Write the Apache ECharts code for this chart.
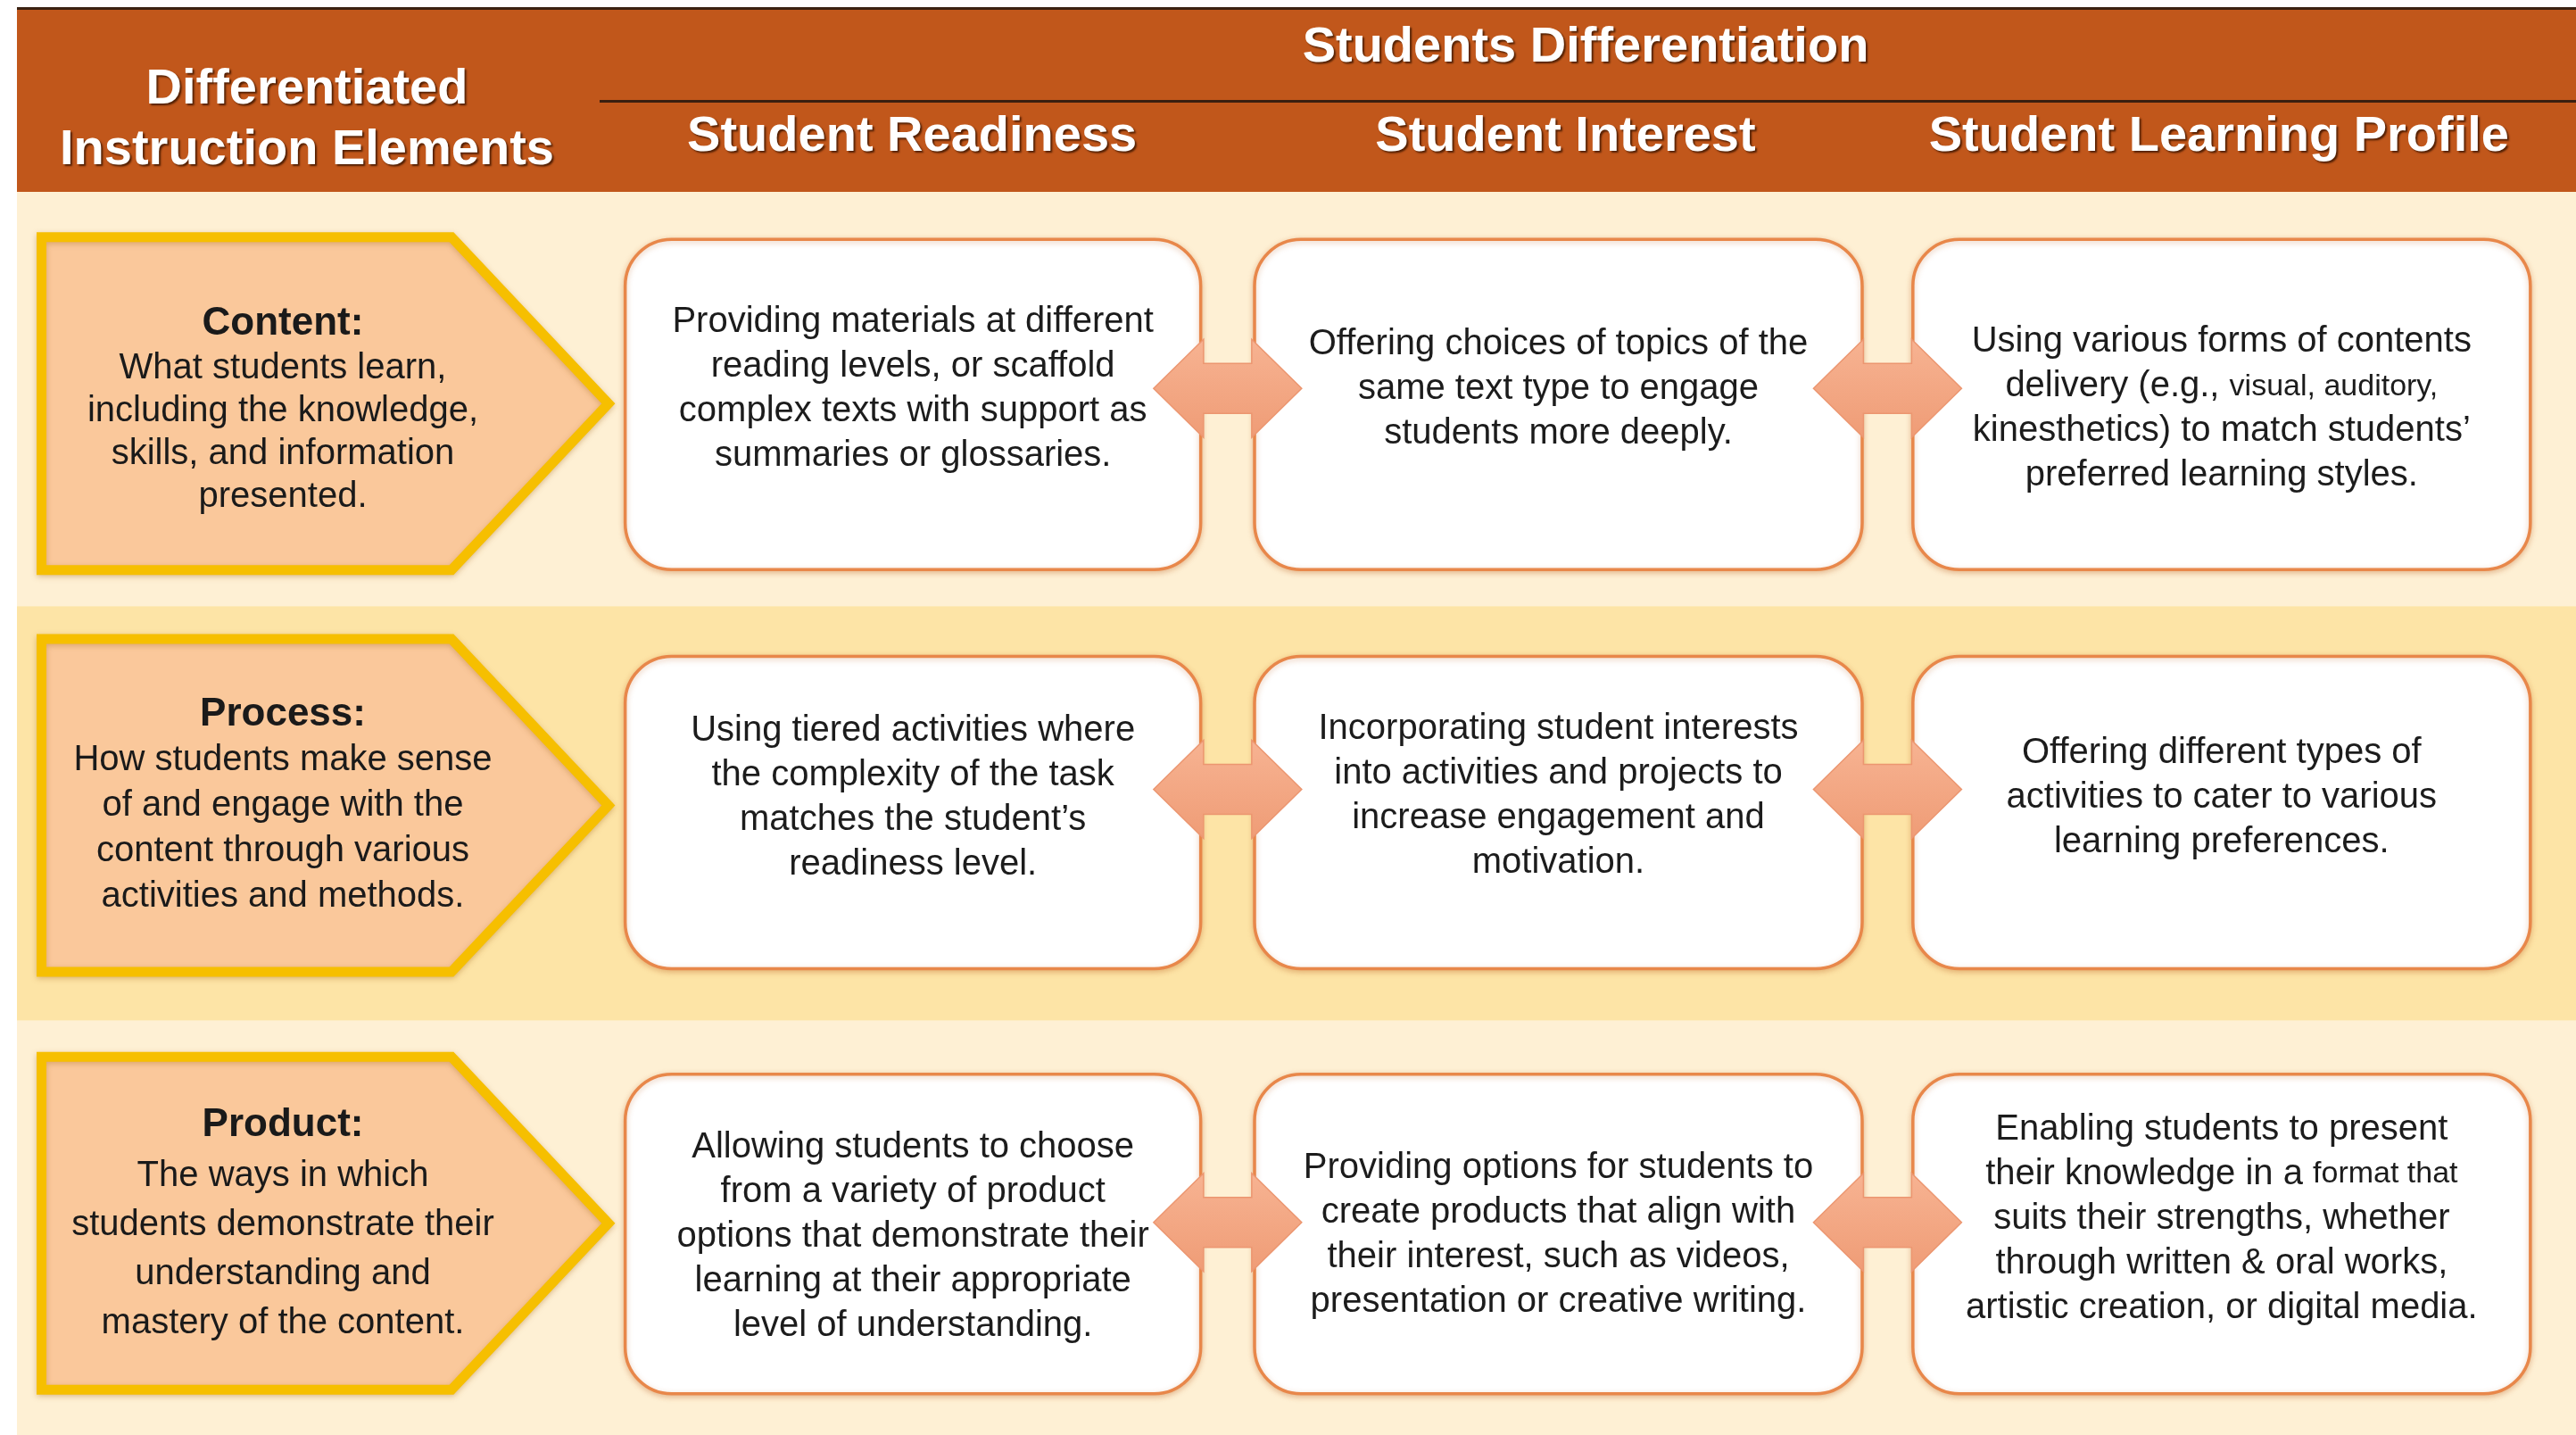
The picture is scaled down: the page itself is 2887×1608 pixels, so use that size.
<!DOCTYPE html>
<html><head><meta charset="utf-8">
<script src="https://cdn.jsdelivr.net/npm/echarts@6/dist/echarts.min.js"></script>
<style>html,body{margin:0;padding:0;background:#fff}#chart{width:2887px;height:1608px}</style>
</head><body><div id="chart"></div>
<script>
// ---------- DATA ----------
const rows = ['Content', 'Process', 'Product'];
const elementHeader = 'Differentiated\nInstruction Elements';
const groupTitle = 'Students Differentiation';
const columns = ['Student Readiness', 'Student Interest', 'Student Learning Profile'];
const elementTitles = ['Content:', 'Process:', 'Product:'];
const elementDescriptions = [
  'What students learn,\nincluding the knowledge,\nskills, and information\npresented.',
  'How students make sense\nof and engage with the\ncontent through various\nactivities and methods.',
  'The ways in which\nstudents demonstrate their\nunderstanding and\nmastery of the content.'
];
const readinessTexts = [
  'Providing materials at different\nreading levels, or scaffold\ncomplex texts with support as\nsummaries or glossaries.',
  'Using tiered activities where\nthe complexity of the task\nmatches the student\u2019s\nreadiness level.',
  'Allowing students to choose\nfrom a variety of product\noptions that demonstrate their\nlearning at their appropriate\nlevel of understanding.'
];
const interestTexts = [
  'Offering choices of topics of the\nsame text type to engage\nstudents more deeply.',
  'Incorporating student interests\ninto activities and projects to\nincrease engagement and\nmotivation.',
  'Providing options for students to\ncreate products that align with\ntheir interest, such as videos,\npresentation or creative writing.'
];
const profileTexts = [
  'Using various forms of contents\ndelivery (e.g., {s|visual, auditory,}\nkinesthetics) to match students\u2019\npreferred learning styles.',
  'Offering different types of\nactivities to cater to various\nlearning preferences.',
  'Enabling students to present\ntheir knowledge in a {s|format that}\nsuits their strengths, whether\nthrough written & oral works,\nartistic creation, or digital media.'
];

// ---------- STYLE / LAYOUT CONSTANTS ----------
const FONT = '"Liberation Sans", Arial, Helvetica, sans-serif';
const HEADER_COLOR = '#C1571B';
const BAND_COLORS = ['#FEF0D4', '#FDE4A6'];
const CHEV = { left: -303, bodyEnd: 162, tip: 345, height: 384, stroke: 11, dy: [5, -9, -5], textDx: -27,
               textDy: [12, -9, -5], lineH: [48, 51, 55], titleH: [52, 52, 60] };
const BOX_W = [645, 681, 692];
const BOX_H = [370, 350, 358];
const BOX_DY = [6, -1, 7];
const COL_DX = [1, -8, 3];
const TEXT_DY = [[-11, -11, 11], [-18, -20, -18], [10, 8, -10]];
const ARROW = { len: 166, head: 56, headH: 110, shaftH: 56, dy: [-12, -27, -6] };

const columnTexts = [readinessTexts, interestTexts, profileTexts];
const cells = [];
columns.forEach((col, c) => rows.forEach((row, r) => cells.push({ c, r, text: columnTexts[c][r] })));
const arrows = [];
rows.forEach((row, r) => { for (let c = 0; c < columns.length - 1; c++) arrows.push({ c, r }); });

function renderElement(params, api) {
  const r = api.value(1);
  const p = api.coord([0, r]);
  const cx = p[0], cy = p[1] + CHEV.dy[r];
  const sw = CHEV.stroke / 2, hh = CHEV.height / 2;
  const x0 = cx + CHEV.left + sw, xb = cx + CHEV.bodyEnd, xt = cx + CHEV.tip - sw * 1.3;
  const y0 = cy - hh + sw, y1 = cy + hh - sw;
  const desc = elementDescriptions[r].split('\n').map(l => '{b|' + l + '}').join('\n');
  return {
    type: 'group',
    children: [
      { type: 'polygon', shape: { points: [[x0, y0], [xb, y0], [xt, cy], [xb, y1], [x0, y1]] },
        style: { fill: '#FAC89B', stroke: '#F6BF00', lineWidth: CHEV.stroke, lineJoin: 'miter',
                 shadowBlur: 6, shadowColor: 'rgba(160,100,20,0.35)', shadowOffsetY: 2 } },
      { type: 'text', x: cx + CHEV.textDx, y: p[1] + CHEV.textDy[r],
        style: { text: '{t|' + elementTitles[r] + '}\n' + desc, align: 'center', verticalAlign: 'middle',
                 rich: {
                   t: { fontFamily: FONT, fontSize: 44, fontWeight: 'bold', fill: '#1a1a1a', lineHeight: CHEV.titleH[r], align: 'center' },
                   b: { fontFamily: FONT, fontSize: 40, fill: '#1a1a1a', lineHeight: CHEV.lineH[r], align: 'center' }
                 } } }
    ]
  };
}

function renderCell(params, api) {
  const d = cells[params.dataIndex];
  const p = api.coord([d.c, d.r]);
  const w = BOX_W[d.c], h = BOX_H[d.r];
  const cx = p[0] + COL_DX[d.c], cy = p[1] + BOX_DY[d.r];
  return {
    type: 'group',
    children: [
      { type: 'rect', shape: { x: cx - w / 2, y: cy - h / 2, width: w, height: h, r: 52 },
        style: { fill: '#FFFFFF', stroke: '#E8874A', lineWidth: 3.5,
                 shadowBlur: 6, shadowColor: 'rgba(190,100,40,0.35)', shadowOffsetY: 2 } },
      { type: 'text', x: cx, y: p[1] + TEXT_DY[d.r][d.c],
        style: { text: d.text, align: 'center', verticalAlign: 'middle', fontFamily: FONT, fontSize: 40,
                 fill: '#1c1c1c', lineHeight: 50,
                 rich: { s: { fontFamily: FONT, fontSize: 34, fill: '#1c1c1c', lineHeight: 50 } } } }
    ]
  };
}

function renderArrow(params, api) {
  const d = arrows[params.dataIndex];
  const p1 = api.coord([d.c, d.r]), p2 = api.coord([d.c + 1, d.r]);
  const leftEdge = p1[0] + COL_DX[d.c] + BOX_W[d.c] / 2;
  const rightEdge = p2[0] + COL_DX[d.c + 1] - BOX_W[d.c + 1] / 2;
  const m = (leftEdge + rightEdge) / 2, y = p1[1] + ARROW.dy[d.r];
  const L = ARROW.len / 2, H = ARROW.head, HH = ARROW.headH / 2, SH = ARROW.shaftH / 2;
  const pts = [
    [m - L, y], [m - L + H, y - HH], [m - L + H, y - SH], [m + L - H, y - SH], [m + L - H, y - HH],
    [m + L, y], [m + L - H, y + HH], [m + L - H, y + SH], [m - L + H, y + SH], [m - L + H, y + HH]
  ];
  return {
    type: 'polygon', shape: { points: pts },
    style: { fill: new echarts.graphic.LinearGradient(0, 0, 0, 1, [
               { offset: 0, color: '#F7B392' }, { offset: 1, color: '#EF9C76' }]),
             stroke: '#EC9670', lineWidth: 1.5 }
  };
}

const headerLabel = {
  show: true, interval: 0, color: '#FFFFFF', fontFamily: FONT, fontSize: 56, fontWeight: 'bold',
  verticalAlign: 'middle', textShadowColor: 'rgba(70,25,0,0.9)', textShadowOffsetX: 2, textShadowOffsetY: 2, textShadowBlur: 2
};
const hiddenAxis = { axisLine: { show: false }, axisTick: { show: false }, splitLine: { show: false } };

const option = {
  backgroundColor: '#FFFFFF',
  animation: false,
  grid: [
    { left: 19, right: 0, top: 215, bottom: 0, outerBoundsMode: 'none' },
    { left: 19, width: 650, top: 215, bottom: 0, outerBoundsMode: 'none' },
    { left: 656, right: 34, top: 215, bottom: 0, outerBoundsMode: 'none' }
  ],
  xAxis: [
    Object.assign({ gridIndex: 0, type: 'category', data: [''], axisLabel: { show: false } }, hiddenAxis),
    Object.assign({ gridIndex: 1, type: 'category', data: [elementHeader], position: 'top',
      axisLabel: Object.assign({}, headerLabel, { margin: 80, lineHeight: 68 }) }, hiddenAxis),
    Object.assign({ gridIndex: 2, type: 'category', data: columns, position: 'top',
      axisLabel: Object.assign({}, headerLabel, { margin: 61 }) }, hiddenAxis)
  ],
  yAxis: [
    { gridIndex: 0, type: 'category', data: rows, inverse: true, axisLine: { show: false }, axisTick: { show: false },
      axisLabel: { show: false }, splitLine: { show: false },
      splitArea: { show: true, areaStyle: { color: BAND_COLORS } } },
    Object.assign({ gridIndex: 1, type: 'category', data: rows, inverse: true, axisLabel: { show: false } }, hiddenAxis),
    Object.assign({ gridIndex: 2, type: 'category', data: rows, inverse: true, axisLabel: { show: false } }, hiddenAxis)
  ],
  graphic: [
    { type: 'rect', z: -10, shape: { x: 19, y: 9, width: 2868, height: 206 }, style: { fill: HEADER_COLOR } },
    { type: 'rect', z: -9, shape: { x: 19, y: 8, width: 2868, height: 3 }, style: { fill: '#3a2212' } },
    { type: 'rect', z: -9, shape: { x: 672, y: 112, width: 2215, height: 3 }, style: { fill: '#3a1f10' } },
    { type: 'text', z: 10, x: 1777, y: 54,
      style: { text: groupTitle, align: 'center', verticalAlign: 'middle', fontFamily: FONT, fontSize: 56,
               fontWeight: 'bold', fill: '#FFFFFF', textShadowColor: 'rgba(70,25,0,0.9)',
               textShadowOffsetX: 2, textShadowOffsetY: 2, textShadowBlur: 2 } }
  ],
  series: [
    { type: 'custom', name: 'Elements', xAxisIndex: 1, yAxisIndex: 1, z: 2,
      data: rows.map((r, i) => [0, i]), encode: { x: 0, y: 1 }, renderItem: renderElement, silent: true },
    { type: 'custom', name: 'Cells', xAxisIndex: 2, yAxisIndex: 2, z: 2,
      data: cells.map(d => [d.c, d.r]), encode: { x: 0, y: 1 }, renderItem: renderCell, silent: true },
    { type: 'custom', name: 'Arrows', xAxisIndex: 2, yAxisIndex: 2, z: 3,
      data: arrows.map(d => [d.c, d.r]), encode: { x: 0, y: 1 }, renderItem: renderArrow, silent: true }
  ]
};

const chart = echarts.init(document.getElementById('chart'), null, { renderer: 'canvas' });
chart.setOption(option);
</script>
</body></html>
